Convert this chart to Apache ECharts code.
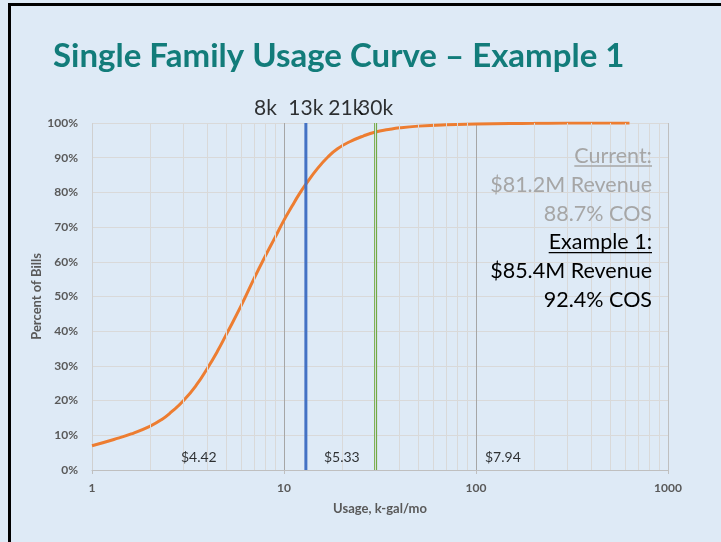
<!DOCTYPE html>
<html><head><meta charset="utf-8">
<script src="https://cdn.jsdelivr.net/npm/echarts@6/dist/echarts.min.js"></script>
<style>html,body{margin:0;padding:0;background:#DEEAF6}#c{width:721px;height:542px}</style>
</head><body><div id="c"></div>
<script>
// ---- data ----
const usage = [1, 1.3, 1.6, 2, 2.3, 2.6, 3, 3.5, 4, 4.5, 5, 6, 7, 8, 9, 10, 11, 12, 13, 15, 17, 19, 22, 26, 30, 35, 40, 50, 70, 100, 150, 200, 300, 630];
const percentOfBills = [0.070, 0.088, 0.104, 0.126, 0.145, 0.168, 0.200, 0.245, 0.294, 0.342, 0.390, 0.475, 0.553, 0.617, 0.671, 0.720, 0.760, 0.795, 0.824, 0.870, 0.903, 0.926, 0.946, 0.963, 0.974, 0.981, 0.986, 0.991, 0.995, 0.997, 0.9985, 0.999, 1.0, 1.0];
const exampleUsage = 13;   // blue marker
const currentUsage = 30;   // green marker
const topLabels = ['8k', '13k', '21k', '30k'];
const topLabelUsage = [8, 13, 21, 30];
const topLabelLevel = 1.043;
const priceLabels = ['$4.42', '$5.33', '$7.94'];
const priceLabelUsage = [3.6, 20, 138];
const priceLabelLevel = 0.035;
const currentLines = ['Current:', '$81.2M Revenue', '88.7% COS'];
const exampleLines = ['Example 1:', '$85.4M Revenue', '92.4% COS'];
const titleText = 'Single Family Usage Curve \u2013 Example 1';

// minor log gridline positions
const minorGrid = [];
for (let d = 0; d < 3; d++) for (let k = 2; k <= 9; k++) minorGrid.push(k * Math.pow(10, d));

const FONT = 'Lato';
const chart = echarts.init(document.getElementById('c'), null, {renderer: 'canvas'});

const ctx = document.createElement('canvas').getContext('2d');
function textW(t, font) { ctx.font = font; return ctx.measureText(t).width; }

const annFont = '21.5px ' + FONT;
const annRight = 652, annTop = 156, annStep = 28.85;
const graphics = [
  {type: 'rect', z: 100, shape: {x: 8, y: 3, width: 713, height: 3}, style: {fill: '#000'}},
  {type: 'rect', z: 100, shape: {x: 8, y: 3, width: 3, height: 539}, style: {fill: '#000'}},
  {type: 'text', z: 100, x: 53, y: 56, style: {text: titleText, font: 'bold 33px ' + FONT, fill: '#127C7A', align: 'left', verticalAlign: 'middle'}}
];
const allLines = currentLines.concat(exampleLines);
allLines.forEach((t, i) => {
  const col = i < 3 ? '#A6A6A6' : '#000000';
  const y = annTop + i * annStep;
  graphics.push({type: 'text', z: 100, x: annRight, y: y, style: {text: t, font: annFont, fill: col, align: 'right', verticalAlign: 'middle'}});
  if (i === 0 || i === 3) {
    const w = textW(t, annFont);
    graphics.push({type: 'line', z: 100, shape: {x1: annRight - w, y1: y + 10, x2: annRight, y2: y + 10}, style: {stroke: col, lineWidth: 1.3}});
  }
});

const option = {
  backgroundColor: '#DEEAF6',
  animation: false,
  grid: {left: 92, right: 53, top: 123, bottom: 72},
  textStyle: {fontFamily: FONT},
  xAxis: {
    type: 'log', logBase: 10, min: 1, max: 1000,
    name: 'Usage, k-gal/mo', nameLocation: 'middle', nameGap: 32, nameMoveOverlap: false,
    nameTextStyle: {color: '#595959', fontWeight: 'bold', fontSize: 13, fontFamily: FONT},
    axisLine: {show: true, lineStyle: {color: '#BFBFBF', width: 1}},
    axisTick: {show: true, length: 4, lineStyle: {color: '#BFBFBF'}},
    axisLabel: {margin: 12, color: '#595959', fontWeight: 'bold', fontSize: 12, fontFamily: FONT,
      formatter: v => String(Math.round(v))},
    splitLine: {show: true, lineStyle: {color: ['#D0D0D0', '#A6A6A6', '#A6A6A6', '#BFBFBF'], width: 1}}
  },
  yAxis: {
    type: 'value', min: 0, max: 1, interval: 0.1,
    name: 'Percent of Bills', nameLocation: 'middle', nameGap: 49, nameMoveOverlap: false,
    nameTextStyle: {color: '#595959', fontWeight: 'bold', fontSize: 13, fontFamily: FONT},
    axisLine: {show: false}, axisTick: {show: false},
    axisLabel: {margin: 14, color: '#595959', fontWeight: 'bold', fontSize: 12, fontFamily: FONT,
      formatter: v => Math.round(v * 100) + '%'},
    splitLine: {show: true, lineStyle: {color: '#D9D9D9', width: 1}}
  },
  graphic: graphics,
  series: [
    {
      type: 'line', data: [], z: 1, silent: true,
      markLine: {silent: true, symbol: 'none', label: {show: false}, animation: false,
        lineStyle: {color: '#D9D9D9', width: 1, type: 'solid'},
        data: minorGrid.map(v => ({xAxis: v}))}
    },
    {
      type: 'line', smooth: 0.5, symbol: 'none', z: 3,
      data: usage.map((u, i) => [u, percentOfBills[i]]),
      lineStyle: {color: '#ED7D31', width: 3}
    },
    {
      type: 'line', symbol: 'none', z: 4,
      data: [[exampleUsage, 0], [exampleUsage, 1]],
      lineStyle: {color: '#4472C4', width: 3}
    },
    {
      type: 'line', symbol: 'none', z: 4,
      data: [[currentUsage, 0], [currentUsage, 1]],
      lineStyle: {color: '#70AD47', width: 3}
    },
    {
      type: 'scatter', symbolSize: 0, clip: false, z: 5, silent: true,
      data: topLabelUsage.map((u, i) => ({name: topLabels[i], value: [u, topLabelLevel]})),
      label: {show: true, position: 'inside', formatter: '{b}', color: '#000', fontSize: 21, fontFamily: FONT}
    },
    {
      type: 'scatter', symbolSize: 0, clip: false, z: 5, silent: true,
      data: priceLabelUsage.map((u, i) => ({name: priceLabels[i], value: [u, priceLabelLevel]})),
      label: {show: true, position: 'inside', formatter: '{b}', color: '#000', fontSize: 14, fontFamily: FONT}
    }
  ]
};
chart.setOption(option);
</script>
</body></html>
